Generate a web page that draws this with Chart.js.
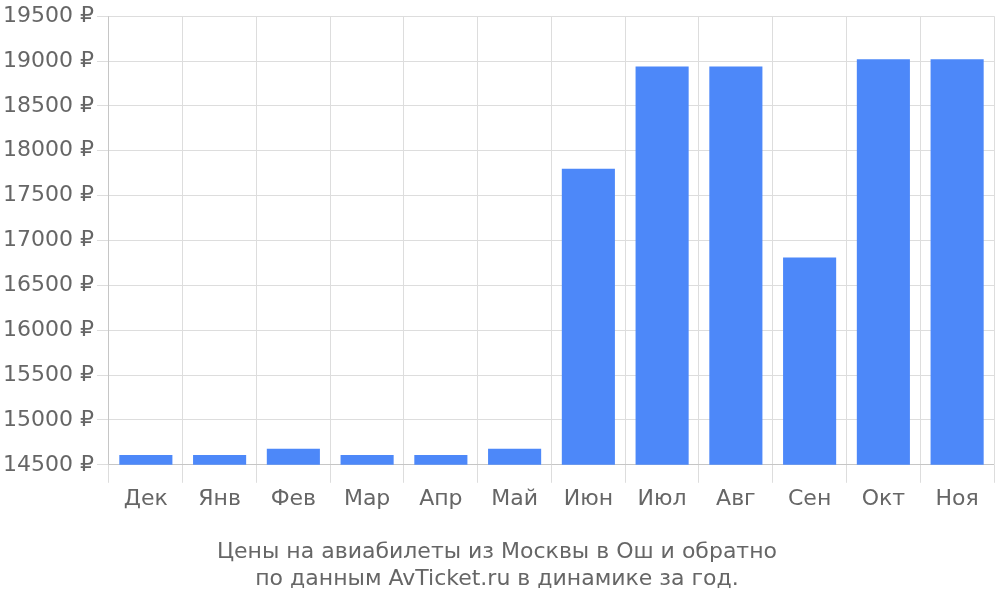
<!DOCTYPE html>
<html><head><meta charset="utf-8">
<script src="https://cdn.jsdelivr.net/npm/chart.js@4"></script>
<style>html,body{margin:0;padding:0;background:#fff}#w{width:1000px;height:600px}</style>
</head><body><div id="w"><canvas id="c"></canvas></div>
<script>
const categories = ["Дек","Янв","Фев","Мар","Апр","Май","Июн","Июл","Авг","Сен","Окт","Ноя"];
const prices = [14610,14610,14680,14610,14610,14680,17800,18940,18940,16810,19020,19020];
const titleLines = ["Цены на авиабилеты из Москвы в Ош и обратно","по данным AvTicket.ru в динамике за год."];
Chart.defaults.font.family = "DejaVu Sans";
new Chart(document.getElementById('c'), {
  type: 'bar',
  data: { labels: categories, datasets: [{ data: prices, backgroundColor: '#4d88f9' }] },
  options: {
    responsive: true, maintainAspectRatio: false, animation: false,
    layout: { padding: { right: 6, top: 4 } },
    plugins: {
      legend: { display: false },
      tooltip: { enabled: false },
      title: { display: true, position: 'bottom', text: titleLines, color: '#666', font: { size: 22, weight: 'normal' }, padding: { top: 24, bottom: 8 }, lineHeight: 1.2 }
    },
    scales: {
      x: { grid: { color: '#ddd', tickLength: 18, offset: true }, ticks: { color: '#666', font: { size: 22 } } },
      y: { min: 14500, max: 19500, grid: { color: '#ddd', tickLength: 12 },
           ticks: { stepSize: 500, color: '#666', font: { size: 22 }, callback: v => v + ' ₽' } }
    }
  }
});
</script></body></html>
